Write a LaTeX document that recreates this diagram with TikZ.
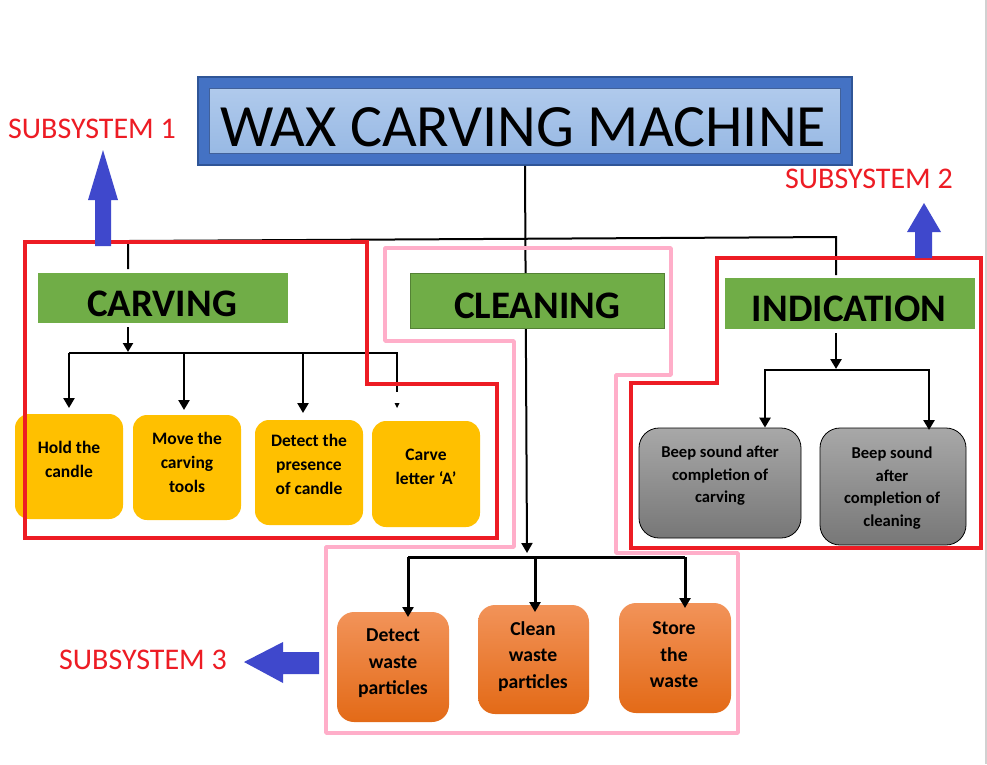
\documentclass[tikz,border=0pt]{standalone}
\usepackage{fontspec}
\setmainfont{Carlito}
\usetikzlibrary{arrows.meta}
\definecolor{sysred}{HTML}{ED1C24}
\definecolor{syspink}{HTML}{FFAEC9}
\definecolor{sysblue}{HTML}{3F48CC}
\definecolor{hdrgreen}{HTML}{70AD47}
\definecolor{hdrgreenD}{HTML}{548235}
\definecolor{boxyellow}{HTML}{FFC000}
\definecolor{titleblue}{HTML}{4472C4}
\definecolor{titleborder}{HTML}{2F5597}
\definecolor{innertop}{HTML}{B0CAEC}
\definecolor{innerbot}{HTML}{98B9E4}
\definecolor{innerborder}{HTML}{41619A}
\definecolor{greytop}{HTML}{A8A8A8}
\definecolor{greybot}{HTML}{777777}
\definecolor{orangetop}{HTML}{F29359}
\definecolor{orangebot}{HTML}{E36A17}
\tikzset{
  conn/.style={line width=2.5pt, black},
  thinconn/.style={line width=2pt, black},
  arr/.style={conn, -{Triangle[width=11pt,length=10pt]}},
  hdrbox/.style={fill=hdrgreen, inner sep=0pt},
  hdrtxt/.style={anchor=base, font=\fontsize{39}{39}\selectfont\bfseries},
  ybox/.style={fill=boxyellow, rounded corners=14pt, inner sep=0pt, minimum width=108pt},
  ytxt/.style={align=center, font=\fontsize{17.5}{24}\selectfont\bfseries},
  gbox/.style={draw=black, line width=0.8pt, top color=greytop, bottom color=greybot, rounded corners=20pt, inner sep=0pt},
  gtxt/.style={align=center, font=\fontsize{16.6}{22.5}\selectfont\bfseries},
  obox/.style={top color=orangetop, bottom color=orangebot, rounded corners=17pt, inner sep=0pt},
  otxt/.style={align=center, font=\fontsize{19.7}{26.5}\selectfont\bfseries},
  systxt/.style={anchor=base west, text=sysred, font=\fontsize{30}{30}\selectfont, inner sep=0pt},
  redline/.style={draw=sysred, line width=4pt, line join=miter},
  pinkline/.style={draw=syspink, line width=3.5pt, line join=round},
  fatarrow/.style={fill=sysblue}
}
\begin{document}
\begin{tikzpicture}[x=1pt,y=-1pt]
\useasboundingbox (0,0) rectangle (987,764);
\fill[white] (0,0) rectangle (987,764);
\draw[black!18, line width=2pt] (985.5,0) -- (985.5,764);

% ---------- title ----------
\node[draw=titleborder, fill=titleblue, line width=1.5pt, minimum width=654pt, minimum height=88pt, inner sep=0pt] (titlebox) at (525,121) {};
\node[draw=innerborder, line width=1pt, top color=innertop, bottom color=innerbot, minimum width=631pt, minimum height=65pt, inner sep=0pt] (titleinner) at (524.5,120.5) {};
\node[anchor=base, font=\fontsize{60}{60}\selectfont, inner sep=0pt] (title) at (523,146) {WAX CARVING MACHINE};

% ---------- coordinates of the bars ----------
\coordinate (topL) at (128,241);
\coordinate (topR) at (836,237);
\coordinate (carvDrop) at (128,269);
\coordinate (indDrop) at (836,275);
\coordinate (cBarL) at (69,353);
\coordinate (cBarR) at (398,353);
\coordinate (iBarL) at (764,370);
\coordinate (iBarR) at (930,370);
\coordinate (bBarL) at (408,557);
\coordinate (bBarR) at (685,557);
\coordinate (mainEnd) at (527,553);

% ---------- connectors ----------
\draw[thinconn] (carvDrop) -- (topL) -- (topR) -- (indDrop);
\draw[thinconn, -{Triangle[width=11pt,length=10pt]}] (titlebox.south) -- (mainEnd);

% ---------- headers ----------
\node[hdrbox, minimum width=250pt, minimum height=50pt] (carvbox) at (163,298) {};
\node[hdrtxt] (carvtxt) at (162,316) {CARVING};
\node[hdrbox, draw=hdrgreenD, line width=1.2pt, minimum width=254pt, minimum height=55pt] (cleanbox) at (537.5,301) {};
\node[hdrtxt] (cleantxt) at (537,318) {CLEANING};
\node[hdrbox, minimum width=250pt, minimum height=51pt] (indbox) at (850,303.5) {};
\node[hdrtxt] (indtxt) at (849,321) {INDICATION};

% ---------- carving branch ----------
\node[ybox, minimum height=105pt] (hold) at (69,466.5) {};
\node[ytxt] at (69,459) {Hold the\\candle};
\node[ybox, minimum height=105pt] (move) at (187,467.5) {};
\node[ytxt] at (187,462) {Move the\\carving\\tools};
\node[ybox, minimum height=105pt] (detect) at (309,472.5) {};
\node[ytxt] at (309,464) {Detect the\\presence\\of candle};
\node[ybox, minimum height=106pt] (carve) at (426,474) {};
\node[ytxt] at (426,466.5) {Carve\\letter ‘A’};

\draw[thinconn, -{Triangle[width=10pt,length=9pt]}] (carvbox.south -| carvDrop) ++(0,4) -- (128,352);
\draw[conn] (cBarL) -- (cBarR);
\draw[arr] (cBarL) -- (69,408);
\draw[arr] (184,353) -- (184,410);
\draw[arr] (303,353) -- (303,413);
\draw[conn] (397,353) -- (397,392);
\fill (394.5,403) -- (399.5,403) -- (397,408) -- cycle;

% ---------- indication branch ----------
\node[gbox, minimum width=162pt, minimum height=110pt] (beep1) at (720,483) {};
\node[gtxt] at (720,476) {Beep sound after\\completion of\\carving};
\node[gbox, minimum width=146pt, minimum height=117pt] (beep2) at (893,486.5) {};
\node[gtxt] at (892,488) {Beep sound\\after\\completion of\\cleaning};

\draw[arr] (indbox.south -| indDrop) ++(0,4) -- (836,369);
\draw[conn] (iBarL) -- (iBarR);
\draw[arr] (765,370) -- (beep1.north -| 765,0);
\draw[arr] (929,370) -- (929,430);

% ---------- cleaning branch ----------
\node[obox, minimum width=112pt, minimum height=110pt] (owaste) at (393,667) {};
\node[otxt] at (393,663.5) {Detect\\waste\\particles};
\node[obox, minimum width=111pt, minimum height=109pt] (oclean) at (533.5,659.5) {};
\node[otxt] at (533,656.5) {Clean\\waste\\particles};
\node[obox, minimum width=112pt, minimum height=110pt] (ostore) at (675,658) {};
\node[otxt] at (674,655) {Store\\the\\waste};

\draw[conn, line width=3pt] (bBarL) -- (bBarR);
\draw[arr, line width=3pt] (bBarL) -- (408,617);
\draw[arr, line width=3pt] (535,557) -- (535,612);
\draw[arr, line width=3pt] (685,557) -- (685,608);

% ---------- subsystem outlines ----------
\draw[pinkline] (385,248) -- (671,248) -- (671,375) -- (616,375) -- (616,553) -- (738,553) -- (738,733) -- (326,733) -- (326,547) -- (514,547) -- (514,341) -- (385,341) -- cycle;
\draw[redline] (25,242) -- (367,242) -- (367,384) -- (497,384) -- (497,538) -- (25,538) -- cycle;
\draw[redline] (717,258) -- (981,258) -- (981,548) -- (631,548) -- (631,383) -- (717,383) -- cycle;

% ---------- subsystem arrows and labels ----------
\fill[fatarrow] (95,246) -- (95,200) -- (88,200) -- (103,150) -- (118,200) -- (111,200) -- (111,246) -- cycle;
\fill[fatarrow] (915,258) -- (915,232) -- (907,232) -- (924,203) -- (941,232) -- (932,232) -- (932,258) -- cycle;
\fill[fatarrow] (319,652) -- (283,652) -- (283,642) -- (244,662) -- (283,683) -- (283,674) -- (319,674) -- cycle;
\node[systxt] (sub1) at (8,138) {SUBSYSTEM 1};
\node[systxt] (sub2) at (785,188) {SUBSYSTEM 2};
\node[systxt] (sub3) at (59,669) {SUBSYSTEM 3};
\end{tikzpicture}
\end{document}
